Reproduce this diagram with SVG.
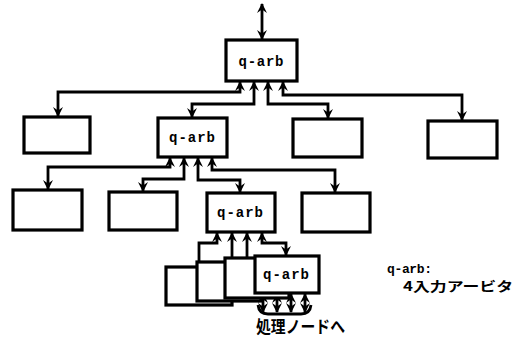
<svg xmlns="http://www.w3.org/2000/svg" width="521" height="341" viewBox="0 0 521 341">
  <defs>
    <marker id="head" viewBox="0 0 10 10" refX="9" refY="5" markerUnits="userSpaceOnUse" markerWidth="10" markerHeight="11" orient="auto-start-reverse">
      <path d="M0,0 L10,5 L0,10 L3.5,5 z" fill="#000"/>
    </marker>
  </defs>
  <style>
    .box { fill: #fff; stroke: #000; stroke-width: 3.2; }
    .wire { fill: none; stroke: #000; stroke-width: 2.8; stroke-linejoin: miter; }
    .up { marker-start: url(#head); }
    .down { marker-end: url(#head); }
    .lbl { font-family: "Liberation Mono", "DejaVu Sans Mono", monospace; font-weight: bold; font-size: 14px; text-anchor: middle; }
    .jp { font-family: "Noto Sans CJK JP", "Noto Sans CJK SC", sans-serif; font-weight: bold; }
  </style>

  <!-- tree wiring -->
  <g id="connectors">
    <!-- root link -->
    <path class="wire up down" d="M262,4 V39"/>
    <!-- level 1 to level 2 -->
    <path class="wire up down" d="M240,82 V92 H58 V116"/>
    <path class="wire up down" d="M254,82 V104 H192 V117"/>
    <path class="wire up down" d="M268,82 V104 H328 V118"/>
    <path class="wire up down" d="M283,82 V95 H462 V120"/>
    <!-- level 2 to level 3 -->
    <path class="wire up down" d="M170,158 V167 H48 V189"/>
    <path class="wire up down" d="M184,158 V179 H143 V191"/>
    <path class="wire up down" d="M198,158 V180 H240 V192"/>
    <path class="wire up down" d="M212,158 V170 H335 V192"/>
    <!-- level 3 to level 4 -->
    <path class="wire up" d="M217,233 V243 H199 V262"/>
    <path class="wire up" d="M232,233 V258"/>
    <path class="wire up" d="M247,233 V258"/>
    <path class="wire up down" d="M262,233 V243 H286 V255"/>
    <!-- links to processing nodes -->
    <path class="wire up down" d="M263,294 V312"/>
    <path class="wire up down" d="M277,294 V312"/>
    <path class="wire up down" d="M291,294 V312"/>
    <path class="wire up down" d="M305,294 V312"/>
    <path class="wire" d="M258,305 Q259,314 268,314 H301 Q310,314 311,305"/>
  </g>

  <g id="root-arb">
    <rect class="box" x="226" y="40" width="71" height="41"/>
    <text class="lbl" x="261" y="66" textLength="45">q-arb</text>
  </g>

  <g id="n1"><rect class="box" x="24" y="117" width="66" height="36"/></g>
  <g id="arb-2">
    <rect class="box" x="158" y="118" width="69" height="39"/>
    <text class="lbl" x="192" y="142" textLength="46">q-arb</text>
  </g>
  <g id="n3"><rect class="box" x="293" y="119" width="69" height="38"/></g>
  <g id="n4"><rect class="box" x="428" y="121" width="69" height="37"/></g>

  <g id="m1"><rect class="box" x="13" y="190" width="69" height="40"/></g>
  <g id="m2"><rect class="box" x="109" y="192" width="68" height="38"/></g>
  <g id="arb-3">
    <rect class="box" x="207" y="193" width="68" height="39"/>
    <text class="lbl" x="240" y="217" textLength="46">q-arb</text>
  </g>
  <g id="m4"><rect class="box" x="302" y="193" width="68" height="39"/></g>

  <!-- stacked leaf arbiters -->
  <g id="k1"><rect class="box" x="166" y="267" width="66" height="38"/></g>
  <g id="k2"><rect class="box" x="197" y="262" width="64" height="39"/></g>
  <g id="k3"><rect class="box" x="225" y="258" width="64" height="40"/></g>
  <g id="arb-4">
    <rect class="box" x="255" y="256" width="64" height="37"/>
    <text class="lbl" x="286" y="279" textLength="46">q-arb</text>
  </g>

  <g id="to-nodes">
    <text class="jp" x="256" y="333" font-size="17" textLength="89" lengthAdjust="spacingAndGlyphs">処理ノードへ</text>
  </g>

  <g id="legend">
    <text x="387" y="273" font-family="Liberation Mono, DejaVu Sans Mono, monospace" font-weight="bold" font-size="13" textLength="45">q-arb:</text>
    <text class="jp" x="403" y="291" font-size="13" textLength="110" lengthAdjust="spacingAndGlyphs">4入力アービタ</text>
  </g>
</svg>
